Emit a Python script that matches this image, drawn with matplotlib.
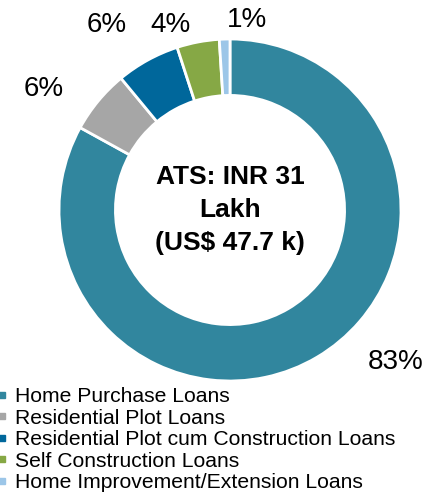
import matplotlib.pyplot as plt
from matplotlib.lines import Line2D

plt.rcParams['font.family'] = ['Liberation Sans', 'DejaVu Sans']

categories = ['Home Purchase Loans', 'Residential Plot Loans',
              'Residential Plot cum Construction Loans', 'Self Construction Loans',
              'Home Improvement/Extension Loans']
shares = [83, 6, 6, 4, 1]
pct_labels = ['83%', '6%', '6%', '4%', '1%']
colors = ['#31869E', '#A6A6A6', '#00679B', '#86A845', '#9CC6E8']
center_text = 'ATS: INR 31\nLakh\n(US$ 47.7 k)'

# where the percentage labels sit, in pie radius units
label_pos = [(0.97, -0.89), (-1.09, 0.71), (-0.72, 1.08), (-0.35, 1.08), (0.10, 1.11)]

fig = plt.figure(figsize=(4.28, 4.99), dpi=100)
ax = fig.add_axes([59 / 428, 1 - 381 / 499, 342 / 428, 342 / 499])
wedges, _ = ax.pie(shares, colors=colors, startangle=90, counterclock=False,
                   radius=1, wedgeprops=dict(width=0.33, edgecolor='white', linewidth=2))
ax.set_xlim(-1, 1)
ax.set_ylim(-1, 1)
ax.set_aspect('equal')
ax.axis('off')

for txt, (x, y) in zip(pct_labels, label_pos):
    ax.text(x, y, txt, ha='center', va='center', fontsize=20, clip_on=False)

ax.text(0, 0, center_text, ha='center', va='center', fontsize=19,
        fontweight='bold', linespacing=1.45)

handles = [Line2D([], [], marker='s', linestyle='none', markersize=5,
                  markerfacecolor=c, markeredgecolor=c) for c in colors]
fig.legend(handles, categories, loc='upper left', bbox_to_anchor=(-0.01, 1 - 387 / 499),
           frameon=False, fontsize=15.2, handlelength=0.6, handletextpad=0.3,
           labelspacing=0.12, borderaxespad=0, borderpad=0)

fig.savefig('out.png', dpi=100)
